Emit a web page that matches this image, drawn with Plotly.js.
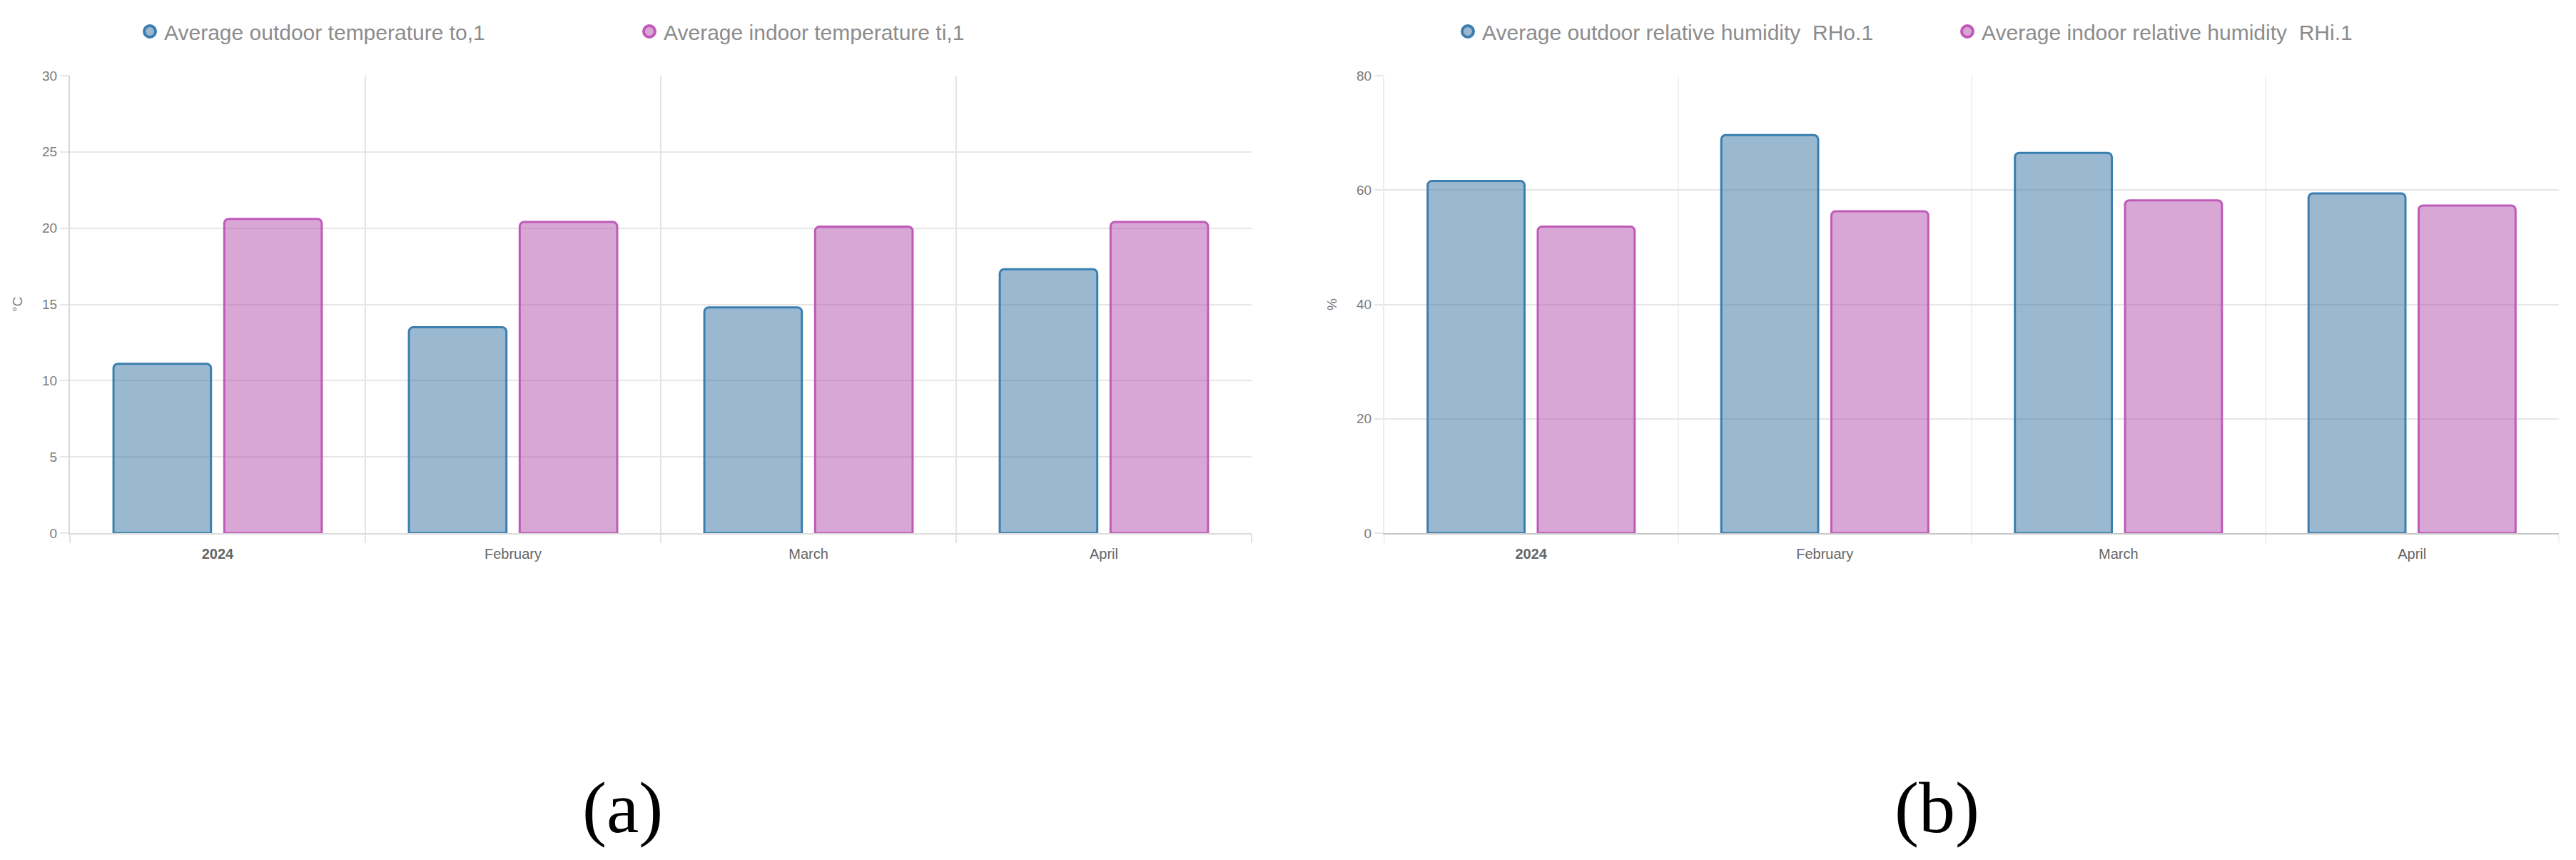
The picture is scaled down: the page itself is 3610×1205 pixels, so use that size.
<!DOCTYPE html>
<html>
<head>
<meta charset="utf-8">
<script src="https://cdn.plot.ly/plotly-3.0.1.min.js"></script>
<style>
  html, body { margin: 0; padding: 0; background: #ffffff; }
  #chart { width: 3610px; height: 1205px; }
</style>
</head>
<body>
<div id="chart"></div>
<script>
// ---- data ----
const categories = ["2024", "February", "March", "April"];
const tickLabels = ["<b>2024</b>", "February", "March", "April"];

const outdoorTemp = [11.1, 13.5, 14.8, 17.3];
const indoorTemp  = [20.6, 20.4, 20.1, 20.4];

const outdoorRH = [61.6, 69.6, 66.5, 59.4];
const indoorRH  = [53.6, 56.3, 58.2, 57.3];

const legendNames = {
  outdoorTemp: "Average outdoor temperature to,1",
  indoorTemp:  "Average indoor temperature ti,1",
  outdoorRH:   "Average outdoor relative humidity\u00a0\u00a0RHo.1",
  indoorRH:    "Average indoor relative humidity\u00a0\u00a0RHi.1"
};

// ---- styles ----
const blueFill = "rgba(55,113,163,0.5)";
const blueLine = "rgb(58,127,176)";
const pinkFill = "rgba(179,79,171,0.5)";
const pinkLine = "rgb(192,90,186)";
const blueLegendFill = "rgb(155,184,209)";
const pinkLegendFill = "rgb(217,167,213)";

function barTrace(y, fill, line, xa, ya) {
  return {
    type: "bar", x: categories, y: y, xaxis: xa, yaxis: ya,
    showlegend: false, hoverinfo: "skip",
    marker: { color: fill, line: { color: line, width: 3 }, cornerradius: 6 }
  };
}
function legendTrace(name, fill, line, leg) {
  return {
    type: "scatter", mode: "markers", x: [null], y: [null],
    name: name, legend: leg, showlegend: true, hoverinfo: "skip",
    marker: { symbol: "circle", size: 16, color: fill, line: { color: line, width: 4 } }
  };
}

const data = [
  barTrace(outdoorTemp, blueFill, blueLine, "x", "y"),
  barTrace(indoorTemp,  pinkFill, pinkLine, "x", "y"),
  barTrace(outdoorRH,   blueFill, blueLine, "x2", "y2"),
  barTrace(indoorRH,    pinkFill, pinkLine, "x2", "y2"),
  legendTrace(legendNames.outdoorTemp, blueLegendFill, blueLine, "legend"),
  legendTrace(legendNames.indoorTemp,  pinkLegendFill, pinkLine, "legend"),
  legendTrace(legendNames.outdoorRH,   blueLegendFill, blueLine, "legend2"),
  legendTrace(legendNames.indoorRH,    pinkLegendFill, pinkLine, "legend2")
];

const W = 3610, H = 1205;
const tickFont = { family: "Liberation Sans, Arial, sans-serif", size: 19, color: "#7a7a7a" };
const xTickFont = { family: "Liberation Sans, Arial, sans-serif", size: 20, color: "#666666" };
const legendFont = { family: "Liberation Sans, Arial, sans-serif", size: 30, color: "#8c8c8c" };

function xAxis(domain, gridColor, lineColor) {
  return {
    type: "category", domain: domain, fixedrange: true,
    tickmode: "array", tickvals: categories, ticktext: tickLabels,
    tickson: "boundaries", ticks: "outside", ticklen: 12, tickwidth: 2, tickcolor: gridColor,
    ticklabelstandoff: 10,
    showgrid: true, gridcolor: gridColor, gridwidth: 2,
    showline: true, linecolor: lineColor, linewidth: 2,
    tickfont: xTickFont, zeroline: false
  };
}
function yAxis(range, dtick, title, lineColor, anchor) {
  return {
    range: range, dtick: dtick, tick0: 0, domain: [1 - 747 / H, 1 - 106 / H],
    anchor: anchor, fixedrange: true,
    ticks: "outside", ticklen: 12, tickwidth: 2, tickcolor: "#e6e6e6",
    showgrid: true, gridcolor: "#e6e6e6", gridwidth: 2,
    showline: true, linecolor: lineColor, linewidth: 2, zeroline: false,
    tickfont: tickFont,
    title: { text: title, font: { family: "Liberation Sans, Arial, sans-serif", size: 19, color: "#7a7a7a" }, standoff: 22 }
  };
}

const layout = {
  width: W, height: H, autosize: false,
  margin: { l: 0, r: 0, t: 0, b: 0, pad: 0 },
  paper_bgcolor: "#ffffff", plot_bgcolor: "#ffffff",
  barmode: "group", bargap: 0.25, bargroupgap: 0.12,
  xaxis: xAxis([98 / W, 1754 / W], "#e3e3e3", "#dcdcdc"),
  yaxis: yAxis([0, 30], 5, "°C", "#d6d6d6", "x"),
  xaxis2: xAxis([1940 / W, 3586 / W], "#f1f1f1", "#c8c8c8"),
  yaxis2: yAxis([0, 80], 20, "%", "#ececec", "x2"),
  legend: {
    orientation: "h", x: 190 / W, xanchor: "left", y: 1 - 44 / H, yanchor: "middle",
    entrywidth: 655, entrywidthmode: "pixels", font: legendFont, bgcolor: "rgba(0,0,0,0)",
    itemclick: false, itemdoubleclick: false
  },
  legend2: {
    orientation: "h", x: 2037 / W, xanchor: "left", y: 1 - 44 / H, yanchor: "middle",
    entrywidth: 655, entrywidthmode: "pixels", font: legendFont, bgcolor: "rgba(0,0,0,0)",
    itemclick: false, itemdoubleclick: false
  },
  annotations: [
    { text: "(a)", xref: "paper", yref: "paper", x: 872 / W, y: 1 - 1131 / H, xanchor: "center", yanchor: "middle",
      showarrow: false, font: { family: "Liberation Serif, Times New Roman, serif", size: 102, color: "#000000" } },
    { text: "(b)", xref: "paper", yref: "paper", x: 2714 / W, y: 1 - 1131 / H, xanchor: "center", yanchor: "middle",
      showarrow: false, font: { family: "Liberation Serif, Times New Roman, serif", size: 102, color: "#000000" } }
  ],
  showlegend: true
};

Plotly.newPlot("chart", data, layout, { displayModeBar: false, staticPlot: true });
</script>
</body>
</html>
